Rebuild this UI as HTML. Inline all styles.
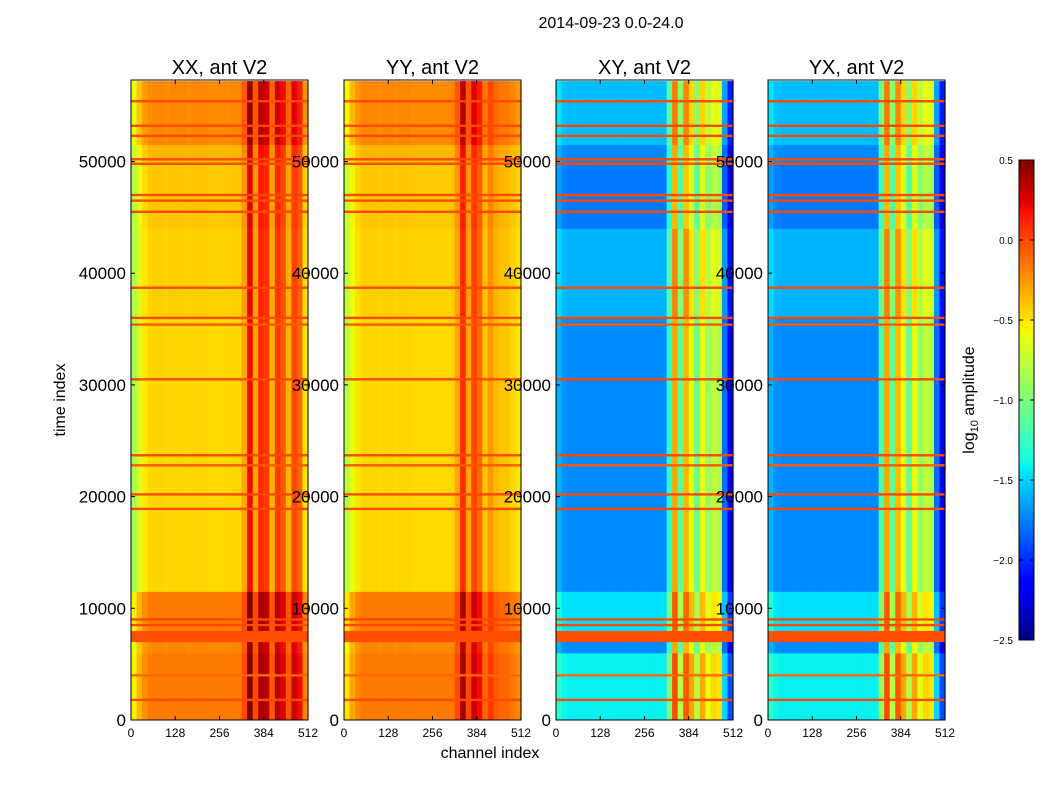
<!DOCTYPE html>
<html><head><meta charset="utf-8"><style>
html,body{margin:0;padding:0;background:#fff}
svg{display:block;font-family:"Liberation Sans",sans-serif}
</style></head><body>
<svg id="fig" width="1050" height="800">
<text x="611" y="28" font-size="16" text-anchor="middle">2014-09-23 0.0-24.0</text>
<text x="490" y="758" font-size="16" text-anchor="middle">channel index</text>
<text x="65" y="400" font-size="16" text-anchor="middle" transform="rotate(-90 65 400)">time index</text>
<text x="974" y="400" font-size="16" text-anchor="middle" transform="rotate(-90 974 400)">log<tspan font-size="11" dy="4">10</tspan><tspan dy="-4"> amplitude</tspan></text>
</svg>
<script>
const titles = ["XX, ant V2","YY, ant V2","XY, ant V2","YX, ant V2"];
const xTicks = [0,128,256,384,512];
const yTicks = [0,10000,20000,30000,40000,50000];
const cbTicks = [0.5,0.0,-0.5,-1.0,-1.5,-2.0,-2.5];
// channel profiles, 32 bins of 16 channels
const profXX = [-0.85,-0.65,-0.52,-0.46,-0.45,-0.45,-0.46,-0.45,-0.45,-0.45,-0.46,-0.45,-0.45,-0.45,-0.46,-0.46,-0.46,-0.46,-0.45,-0.45,-0.3,0.2,-0.3,0.1,0.05,-0.35,0.05,-0.05,-0.35,0.0,-0.1,-0.5];
const profYY = [-0.8,-0.6,-0.5,-0.45,-0.45,-0.45,-0.46,-0.45,-0.45,-0.46,-0.45,-0.45,-0.46,-0.46,-0.46,-0.46,-0.46,-0.46,-0.46,-0.45,-0.3,0.1,-0.3,0.0,-0.1,-0.4,-0.25,-0.35,-0.4,-0.4,-0.45,-0.5];
const profXY = [-1.6,-1.7,-1.72,-1.72,-1.72,-1.72,-1.72,-1.72,-1.72,-1.72,-1.72,-1.72,-1.72,-1.72,-1.72,-1.72,-1.72,-1.72,-1.72,-1.72,-1.3,-0.3,-1.1,-0.35,-0.6,-1.1,-0.6,-0.9,-0.75,-0.8,-1.8,-2.2];
const profYX = [-1.6,-1.7,-1.72,-1.72,-1.72,-1.72,-1.72,-1.72,-1.72,-1.72,-1.72,-1.72,-1.72,-1.72,-1.72,-1.72,-1.72,-1.72,-1.72,-1.72,-1.2,-0.3,-1.1,-0.35,-0.6,-1.1,-0.6,-0.9,-0.75,-0.8,-1.8,-2.2];
// time segments [start,end]
const segStart = [0,6000,7000,8000,11500,36000,44000,50000,51500];
const segEnd   = [6000,7000,8000,11500,36000,44000,50000,51500,57200];
const segOffXX = [0.3,0.25,0,0.3,0,0.02,0.05,0.1,0.25];
const segOffXY = [0.3,0.0,0,0.25,0,0.12,-0.05,0.0,0.15];
const segFixed = [null,null,-0.02,null,null,null,null,null,null];
// flagged time rows (bright stripes)
const flagTimes = [1800,4000,8500,9000,18900,20200,22800,23700,30500,35400,36000,38700,45500,46500,47000,49800,50200,52300,53200,55400];
const flagVals = [0.0,-0.1,0.0,0.0,0.0,0.0,-0.05,0.0,0.0,-0.05,0.0,0.0,0.0,0.0,0.0,0.0,0.0,0.0,0.0,0.0];

const NS="http://www.w3.org/2000/svg";
const svg=document.getElementById('fig');
const panelX=[131,344,556,768], PW=177, PT=80, PB=720, TMAX=57300;
const yS=t=>PB-(t/TMAX)*(PB-PT);
function interp(x,pts){for(let i=1;i<pts.length;i++){if(x<=pts[i][0]){const a=pts[i-1],b=pts[i];return a[1]+(b[1]-a[1])*(x-a[0])/(b[0]-a[0]);}}return pts[pts.length-1][1];}
function jet(v){
  let x=(v+2.5)/3; x=Math.max(0,Math.min(1,x));
  const r=interp(x,[[0,0],[0.35,0],[0.66,1],[0.89,1],[1,0.5]]);
  const g=interp(x,[[0,0],[0.125,0],[0.375,1],[0.64,1],[0.91,0],[1,0]]);
  const b=interp(x,[[0,0.5],[0.11,1],[0.34,1],[0.65,0],[1,0]]);
  return `rgb(${Math.round(r*255)},${Math.round(g*255)},${Math.round(b*255)})`;
}
function el(tag,attrs,parent){const e=document.createElementNS(NS,tag);for(const k in attrs)e.setAttribute(k,attrs[k]);(parent||svg).appendChild(e);return e;}
const profs=[profXX,profYY,profXY,profYX];
const offs=[segOffXX,segOffXX,segOffXY,segOffXY];
for(let p=0;p<4;p++){
  const g=el('g',{});
  
  
  const x0=panelX[p], cw=PW/profs[p].length;
  for(let s=0;s<segStart.length;s++){
    const y1=yS(segEnd[s]), y2=yS(segStart[s]);
    for(let c=0;c<profs[p].length;c++){
      const v=segFixed[s]!==null?segFixed[s]:profs[p][c]+offs[p][s];
      const r=el('rect',{x:x0+c*cw,y:y1,width:cw+0.6,height:y2-y1+0.3,fill:jet(v)},g);
      
      
    }
  }
  for(let i=0;i<flagTimes.length;i++){
    const r=el('rect',{x:x0,y:yS(flagTimes[i])-1.2,width:PW,height:2.4,fill:jet(flagVals[i])},g);
    
    
  }
  const fr=el('rect',{x:x0,y:PT,width:PW,height:PB-PT,fill:'none',stroke:'#000','stroke-width':1});
  
  
  const t=el('text',{x:x0+PW/2,y:74,'font-size':20,'text-anchor':'middle'});
  t.textContent=titles[p];
  
  
  xTicks.forEach(v=>{
    const x=x0+v/512*PW;
    el('line',{x1:x,x2:x,y1:PB,y2:PB-4,stroke:'#000'});
    el('line',{x1:x,x2:x,y1:PT,y2:PT+4,stroke:'#000'});
    const tt=el('text',{x:x,y:PB+17,'font-size':12,'text-anchor':'middle'});
    tt.textContent=v;
    
    
  });
  yTicks.forEach(v=>{
    const y=yS(v);
    el('line',{x1:x0,x2:x0+4,y1:y,y2:y,stroke:'#000'});
    el('line',{x1:x0+PW,x2:x0+PW-4,y1:y,y2:y,stroke:'#000'});
    const tt=el('text',{x:x0-5,y:y+6,'font-size':17,'text-anchor':'end'});
    tt.textContent=v;
    
    
  });
}
// colorbar
const cbX=1019, cbW=15, cbT=160, cbB=640;
const cg=el('g',{});


for(let i=0;i<120;i++){
  const v=-2.5+3*(i+0.5)/120;
  const y=cbB-(i+1)*(cbB-cbT)/120;
  el('rect',{x:cbX,y:y,width:cbW,height:(cbB-cbT)/120+0.5,fill:jet(v)},cg);
}
el('rect',{x:cbX,y:cbT,width:cbW,height:cbB-cbT,fill:'none',stroke:'#000'},cg);
cbTicks.forEach(v=>{
  const y=cbB-(v+2.5)/3*(cbB-cbT);
  el('line',{x1:cbX,x2:cbX+4,y1:y,y2:y,stroke:'#000'},cg);
  el('line',{x1:cbX+cbW-4,x2:cbX+cbW,y1:y,y2:y,stroke:'#000'},cg);
  const tt=el('text',{x:1013,y:y+4,'font-size':10,'text-anchor':'end'},cg);
  tt.textContent=(v<0?'\u2212':'')+Math.abs(v).toFixed(1);
  
  
});
</script>
</body></html>
